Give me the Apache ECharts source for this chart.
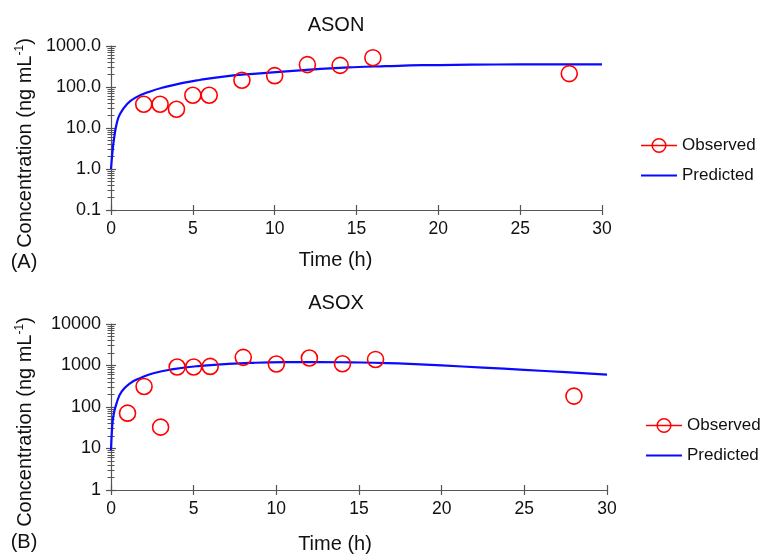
<!DOCTYPE html>
<html>
<head>
<meta charset="utf-8">
<script src="https://cdn.jsdelivr.net/npm/echarts@6/dist/echarts.min.js"></script>
<style>html,body{margin:0;padding:0;background:#fff;}#chart{width:765px;height:556px;}</style>
</head>
<body>
<div id="chart"></div>
<script>
// ---- data ----
const xTicks = [0, 5, 10, 15, 20, 25, 30];
const yTicksA = [0.1, 1, 10, 100, 1000];
const yTicksB = [1, 10, 100, 1000, 10000];

const obsTimeA = [2, 3, 4, 5, 6, 8, 10, 12, 14, 16, 28];
const obsConcA = [38, 38, 28.7, 63, 63, 146, 189, 351, 337, 519, 212];
const predTimeA = [0, 0.1, 0.2, 0.35, 0.55, 1, 1.5, 2.4, 3.4, 4.4, 5.4, 7, 8.7, 10.7, 12.8, 14.8, 16.8, 19, 22, 25, 30];
const predConcA = [1.0, 2.9, 6, 12.9, 22, 39, 55, 78, 102, 126, 148, 182, 210, 240, 276, 303, 322, 340, 350, 355, 358];

const obsTimeB = [1, 2, 3, 4, 5, 6, 8, 10, 12, 14, 16, 28];
const obsConcB = [71, 313, 32.7, 920, 920, 950, 1570, 1087, 1515, 1100, 1400, 183];
const predTimeB = [0, 0.06, 0.14, 0.34, 0.65, 1.15, 1.75, 2.56, 3.77, 5.4, 7.1, 8.6, 10.5, 12.6, 14.5, 16.7, 18.7, 20, 22.5, 25, 27.5, 30];
const predConcB = [9.2, 28, 59, 124, 237, 370, 495, 650, 815, 980, 1095, 1160, 1200, 1210, 1190, 1145, 1065, 1005, 890, 785, 690, 600];

const minorA = [], minorB = [];
[0.1, 1, 10, 100].forEach(d => { for (let k = 2; k <= 9; k++) minorA.push(+(d * k).toPrecision(3)); });
[1, 10, 100, 1000].forEach(d => { for (let k = 2; k <= 9; k++) minorB.push(d * k); });

const pairs = (xs, ys) => xs.map((x, i) => [x, ys[i]]);

// ---- styling ----
const FONT = 'Liberation Sans, Arial, sans-serif';
const AX = '#555';
const RED = '#ff0000';
const BLUE = '#0a0aff';

function xAxes(grid, min, max) {
  const base = {
    type: 'value', gridIndex: grid, min: min, max: max, interval: 5, position: 'bottom',
    splitLine: { show: false }
  };
  return [
    Object.assign({}, base, {
      name: 'Time (h)', nameLocation: 'middle', nameGap: grid === 0 ? 40 : 44,
      nameTextStyle: { fontFamily: FONT, fontSize: 20, color: '#111', padding: [0, grid === 0 ? 42 : 48, 0, 0] },
      axisLine: { show: true, lineStyle: { color: AX, width: 1.2 } },
      axisTick: { show: true, length: 5, lineStyle: { color: AX, width: 1.2 } },
      axisLabel: { fontFamily: FONT, fontSize: 17.5, color: '#111', margin: 10,
        customValues: xTicks }
    }),
    Object.assign({}, base, {
      axisLine: { show: false },
      axisTick: { show: true, inside: true, length: 5, lineStyle: { color: AX, width: 1.2 } },
      axisLabel: { show: false }
    })
  ];
}

function yAxes(grid, min, max, minor, fmt) {
  const base = {
    type: 'log', logBase: 10, gridIndex: grid, min: min, max: max, position: 'left',
    splitLine: { show: false }
  };
  return [
    Object.assign({}, base, {
      axisLine: { show: true, lineStyle: { color: AX, width: 1.2 } },
      axisTick: { show: true, length: 5, lineStyle: { color: AX, width: 1.2 } },
      axisLabel: { fontFamily: FONT, fontSize: 18, color: '#111', margin: 10, formatter: fmt }
    }),
    Object.assign({}, base, {
      axisLine: { show: false },
      axisTick: { show: true, inside: true, length: 5, lineStyle: { color: AX, width: 1.2 } },
      axisLabel: { show: false }
    }),
    Object.assign({}, base, {
      axisLine: { show: false },
      axisTick: { show: true, length: 3.5, customValues: minor, lineStyle: { color: AX, width: 1 } },
      axisLabel: { show: false }
    }),
    Object.assign({}, base, {
      axisLine: { show: false },
      axisTick: { show: true, inside: true, length: 3.5, customValues: minor, lineStyle: { color: AX, width: 1 } },
      axisLabel: { show: false }
    })
  ];
}

function obsSeries(xi, yi, data) {
  return {
    name: 'Observed', type: 'line', xAxisIndex: xi, yAxisIndex: yi, data: data,
    symbol: 'circle', symbolSize: 16, showSymbol: true,
    lineStyle: { opacity: 0, color: RED, width: 1.5 },
    itemStyle: { color: 'rgba(255,255,255,0)', borderColor: RED, borderWidth: 1.6 },
    z: 3, animation: false
  };
}
function predSeries(xi, yi, data) {
  return {
    name: 'Predicted', type: 'line', xAxisIndex: xi, yAxisIndex: yi, data: data,
    showSymbol: false, symbol: 'none', smooth: 0.5,
    lineStyle: { color: BLUE, width: 2.2 }, itemStyle: { color: BLUE },
    z: 2, animation: false
  };
}

function legendAt(left, top) {
  return {
    orient: 'vertical', left: left, top: top, padding: 0, itemGap: 13,
    itemWidth: 36, itemHeight: 17, itemTextGap: 14,
    textStyle: { fontFamily: FONT, fontSize: 17, color: '#111' },
    selectedMode: false,
    data: [
      { name: 'Observed', lineStyle: { opacity: 1, color: RED, width: 1.5 },
        itemStyle: { color: 'rgba(255,255,255,0)', borderColor: RED, borderWidth: 1.5 } },
      { name: 'Predicted', lineStyle: { opacity: 1, color: BLUE, width: 2 },
        itemStyle: { color: 'rgba(0,0,0,0)', borderWidth: 0, opacity: 0 } }
    ]
  };
}

function yName(x, y) {
  return {
    type: 'text', x: x, y: y, rotation: Math.PI / 2,
    style: {
      text: '{a|Concentration (ng mL}{s|-1}{a|)}',
      align: 'center', verticalAlign: 'middle',
      rich: {
        a: { fontFamily: FONT, fontSize: 20, fill: '#111', lineHeight: 22 },
        s: { fontFamily: FONT, fontSize: 12, fill: '#111', verticalAlign: 'top', lineHeight: 12 }
      }
    }
  };
}

const chart = echarts.init(document.getElementById('chart'), null, { renderer: 'canvas' });
const xa = xAxes(0, 0, 30).concat(xAxes(1, 0, 30));
const ya = yAxes(0, 0.1, 1000, minorA, v => Number(v).toFixed(1))
  .concat(yAxes(1, 1, 10000, minorB, v => String(Math.round(v))));

chart.setOption({
  animation: false,
  backgroundColor: '#fff',
  textStyle: { fontFamily: FONT },
  title: [
    { text: 'ASON', left: 336, top: 15, textAlign: 'center', padding: 0,
      textStyle: { fontFamily: FONT, fontSize: 20, fontWeight: 'normal', color: '#111' } },
    { text: 'ASOX', left: 336, top: 293, textAlign: 'center', padding: 0,
      textStyle: { fontFamily: FONT, fontSize: 20, fontWeight: 'normal', color: '#111' } }
  ],
  grid: [
    { left: 111, top: 46, width: 491, height: 164, containLabel: false },
    { left: 111, top: 324, width: 496, height: 166, containLabel: false }
  ],
  legend: [legendAt(640, 137), legendAt(645, 417)],
  xAxis: xa,
  yAxis: ya,
  series: [
    predSeries(0, 0, pairs(predTimeA, predConcA)),
    obsSeries(0, 0, pairs(obsTimeA, obsConcA)),
    predSeries(2, 4, pairs(predTimeB, predConcB)),
    obsSeries(2, 4, pairs(obsTimeB, obsConcB))
  ],
  graphic: [
    yName(25, 143),
    yName(25, 422),
    { type: 'text', x: 24, y: 262, style: { text: '(A)', align: 'center', verticalAlign: 'middle',
      font: '20px ' + FONT, fill: '#111' } },
    { type: 'text', x: 24, y: 542, style: { text: '(B)', align: 'center', verticalAlign: 'middle',
      font: '20px ' + FONT, fill: '#111' } }
  ]
});
</script>
</body>
</html>
